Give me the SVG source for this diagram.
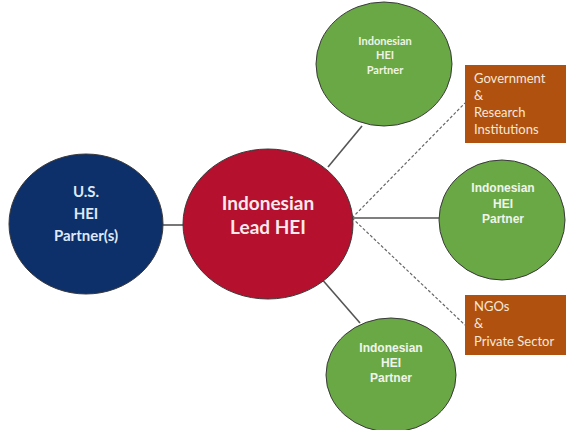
<svg xmlns="http://www.w3.org/2000/svg" width="566" height="430" viewBox="0 0 566 430">
<style>
.node{stroke:#3a3a3a;stroke-width:1}
.us{fill:#0d2f6a}
.lead{fill:#b5102e}
.grn{fill:#6aa845}
.box{fill:#b0510f;stroke:none}
.conn{stroke:#555;stroke-width:1.6;fill:none}
.dot{stroke:#666;stroke-width:1.2;stroke-dasharray:3,2;fill:none}
.t{font-family:Lato,"Open Sans","Liberation Sans",sans-serif;font-weight:bold;text-anchor:middle}
.ta{font-family:"Liberation Sans",Arial,sans-serif;font-weight:bold;text-anchor:middle;fill:#f0f4ec;font-size:12px}
.tb{font-family:Lato,"Open Sans","Liberation Sans",sans-serif;font-size:13px;fill:#f6e8da}
</style>
<rect width="566" height="430" fill="#ffffff"/>
<g id="connectors">
<line class="conn" x1="162" y1="225" x2="185" y2="225"/>
<line class="conn" x1="328" y1="167" x2="362" y2="126"/>
<line class="conn" x1="352" y1="218" x2="439" y2="218"/>
<line class="conn" x1="320" y1="277" x2="360" y2="323"/>
<line class="dot" x1="352" y1="218" x2="465" y2="103"/>
<line class="dot" x1="352" y1="218" x2="465" y2="325"/>
</g>
<g id="us">
<ellipse class="node us" cx="86" cy="224" rx="77" ry="70"/>
<text class="t" font-size="15" fill="#dfe8f4"><tspan x="86" y="197">U.S.</tspan><tspan x="86" y="219">HEI</tspan><tspan x="86" y="241">Partner(s)</tspan></text>
</g>
<g id="lead">
<ellipse class="node lead" cx="268" cy="224" rx="85" ry="75"/>
<text class="t" font-size="19" fill="#fbe9ec"><tspan x="268" y="210">Indonesian</tspan><tspan x="268" y="234">Lead HEI</tspan></text>
</g>
<g id="partner-top">
<ellipse class="node grn" cx="384" cy="64" rx="68" ry="62"/>
<text class="t" font-size="11" fill="#eef4e6"><tspan x="385" y="45">Indonesian</tspan><tspan x="385" y="59">HEI</tspan><tspan x="385" y="74">Partner</tspan></text>
</g>
<g id="partner-right">
<ellipse class="node grn" cx="502" cy="220" rx="63" ry="60"/>
<text class="ta"><tspan x="503" y="192">Indonesian</tspan><tspan x="503" y="208">HEI</tspan><tspan x="503" y="223">Partner</tspan></text>
</g>
<g id="partner-bottom">
<ellipse class="node grn" cx="391" cy="375" rx="65" ry="57"/>
<text class="ta"><tspan x="391" y="352">Indonesian</tspan><tspan x="391" y="367">HEI</tspan><tspan x="391" y="382">Partner</tspan></text>
</g>
<g id="gov">
<rect class="box" x="465" y="65" width="101" height="78"/>
<text class="tb"><tspan x="474" y="83">Government</tspan><tspan x="474" y="100">&amp;</tspan><tspan x="474" y="117">Research</tspan><tspan x="474" y="134">Institutions</tspan></text>
</g>
<g id="ngo">
<rect class="box" x="465" y="295" width="101" height="60"/>
<text class="tb"><tspan x="474" y="311">NGOs</tspan><tspan x="474" y="328">&amp;</tspan><tspan x="474" y="346">Private Sector</tspan></text>
</g>
</svg>
